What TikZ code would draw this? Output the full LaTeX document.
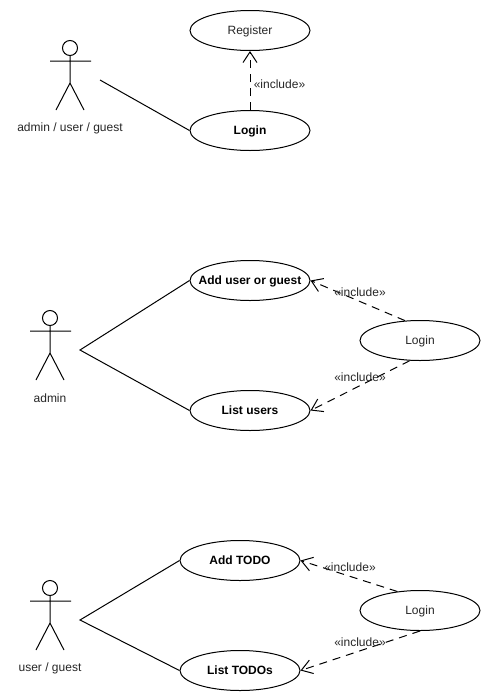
\documentclass[tikz,border=0pt]{standalone}
\usepackage{fontspec}
\setmainfont{Liberation Sans}
\usetikzlibrary{shapes.geometric,arrows.meta}
\tikzset{
  usecase/.style={draw=black,line width=0.75pt,ellipse,minimum width=90pt,minimum height=30pt,inner sep=0pt,fill=white,text=black!85,font=\fontsize{9}{11}\selectfont},
  boldcase/.style={usecase,text=black,font=\fontsize{9}{11}\selectfont\bfseries},
  assoc/.style={draw=black,line width=0.75pt},
  incl/.style={draw=black,line width=0.75pt,dash pattern=on 6pt off 4.5pt,-{Straight Barb[length=8pt,width=10.5pt,line width=0.75pt]}},
  lbl/.style={font=\fontsize{9}{11}\selectfont,text=black!85,inner sep=0pt},
  limb/.style={draw=black,line width=0.75pt},
  head/.style={circle,draw=black,line width=0.75pt,minimum size=11.25pt,inner sep=0pt}
}
\newcommand{\ctext}[1]{\makebox[0pt]{\rule[-2.2pt]{0pt}{10.4pt}#1}}
\begin{document}
\begin{tikzpicture}[x=0.75pt,y=-0.75pt]
\useasboundingbox (0,0) rectangle (490,700);
% actor 1
\node[head] (h1) at (70,48) {};
\coordinate (la1) at (50,61); \coordinate (ra1) at (91,61);
\coordinate (hip1) at (70,83); \coordinate (lf1) at (56,110); \coordinate (rf1) at (84,110);
\draw[limb] (h1.south) -- (hip1) (la1) -- (ra1) (lf1) -- (hip1) -- (rf1);
\node[lbl] (t1) at (70,128) {admin / user / guest};
% actor 2
\node[head] (h2) at (50,318) {};
\coordinate (la2) at (30,331); \coordinate (ra2) at (71,331);
\coordinate (hip2) at (50,353); \coordinate (lf2) at (36,380); \coordinate (rf2) at (64,380);
\draw[limb] (h2.south) -- (hip2) (la2) -- (ra2) (lf2) -- (hip2) -- (rf2);
\node[lbl] (t2) at (50,398) {admin};
% actor 3
\node[head] (h3) at (50,588) {};
\coordinate (la3) at (30,601); \coordinate (ra3) at (71,601);
\coordinate (hip3) at (50,623); \coordinate (lf3) at (36,650); \coordinate (rf3) at (64,650);
\draw[limb] (h3.south) -- (hip3) (la3) -- (ra3) (lf3) -- (hip3) -- (rf3);
\node[lbl] (t3) at (50,668) {user / guest};
% use cases
\node[usecase] (reg) at (250,30.5) {\ctext{Register}};
\node[boldcase] (login1) at (250,130.5) {\ctext{Login}};
\node[boldcase] (adduser) at (250,280.5) {\ctext{Add user or guest}};
\node[boldcase] (listusers) at (250,410.5) {\ctext{List users}};
\node[usecase] (login2) at (420,340.5) {\ctext{Login}};
\node[boldcase] (addtodo) at (240,560.5) {\ctext{Add TODO}};
\node[boldcase] (listtodo) at (240,670.5) {\ctext{List TODOs}};
\node[usecase] (login3) at (420,610.5) {\ctext{Login}};
% associations
\coordinate (s1) at (100,80);
\coordinate (s2) at (80,350);
\coordinate (s3) at (80,620);
\draw[assoc] (s1) -- (login1.west);
\draw[assoc] (adduser.west) -- (s2) -- (listusers.west);
\draw[assoc] (addtodo.west) -- (s3) -- (listtodo.west);
% includes
\draw[incl] (login1.north) -- (reg.south);
\draw[incl] (login2.127) -- (adduser.east);
\draw[incl] (login2.243) -- (listusers.east);
\draw[incl] (login3.140) -- (addtodo.east);
\draw[incl] (login3.south) -- (listtodo.east);
% labels
\node[lbl] (i1) at (279.5,84.5) {«include»};
\node[lbl] (i2) at (360,292.5) {«include»};
\node[lbl] (i3) at (360,377.5) {«include»};
\node[lbl] (i4) at (350,567.5) {«include»};
\node[lbl] (i5) at (360,642.5) {«include»};
\end{tikzpicture}
\end{document}
